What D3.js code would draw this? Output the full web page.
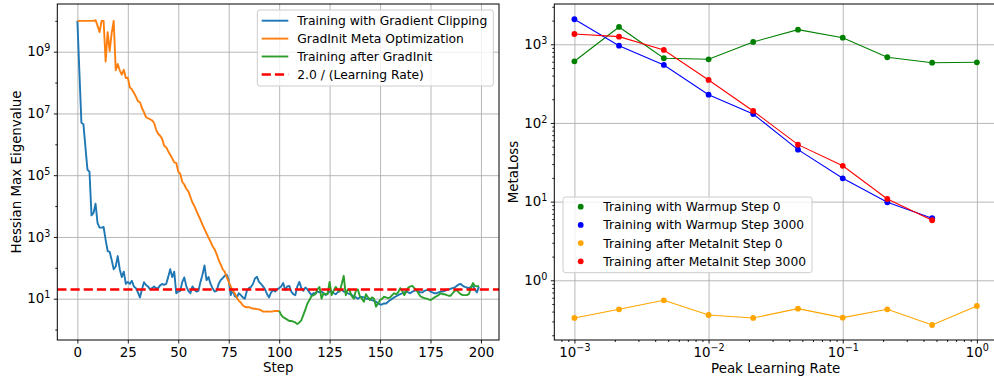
<!DOCTYPE html>
<html>
<head>
<meta charset="utf-8">
<script src="https://cdn.jsdelivr.net/npm/d3@7"></script>
<style>
  body { margin: 0; background: #fff; }
  svg { display: block; font-family: "DejaVu Sans", sans-serif; }
</style>
</head>
<body>
<svg id="fig" width="994" height="377"></svg>
<script>
// ---------------- Left panel data: Hessian max eigenvalue per step ----------------
// Training with Gradient Clipping, steps 0..199
const clipValues = [
  1e10, 2.2e8, 5e6, 4.5e6, 8e5, 1.5e5, 1.3e5, 5e3, 6e3, 1.2e4,
  2.8e3, 2e3, 2e3, 2.1e3, 800, 350, 330, 180, 90, 110,
  240, 90, 50, 75, 30, 35, 30, 38, 25, 22,
  16, 11, 20, 34, 28, 25, 20, 22, 25, 22,
  22, 27, 30, 28, 30, 50, 90, 50, 75, 15,
  17, 18, 35, 49, 25, 18, 15, 25, 20, 17,
  18, 35, 60, 120, 40, 50, 30, 22, 17, 18,
  30, 40, 46, 55, 60, 40, 13, 19, 12, 11,
  15, 13, 11, 10, 18, 22, 24, 30, 45, 51,
  35, 30, 25, 20, 14, 11, 16, 19, 17, 20,
  22, 25, 32, 19, 25, 26, 17, 14, 13, 25,
  35, 22, 18, 23, 20, 16, 13, 15, 15, 17,
  16, 17, 15, 13, 15, 17, 17, 15, 14, 16,
  19, 19, 17, 16, 15, 14, 13, 12, 11, 10,
  11, 11.5, 11, 10, 10, 10, 9, 8.5, 8, 7,
  6.5, 6.5, 7, 7, 8, 9, 10, 11, 12, 13,
  14, 15, 16, 17, 16, 15, 17, 18, 19, 17,
  16, 16, 18, 19, 19, 17, 16, 15, 15, 16,
  17, 17, 18, 19, 20, 21, 22, 23, 26, 29,
  30, 26, 24, 23, 22, 24, 26, 20, 16, 25
];
// GradInit Meta Optimization, steps 0..100
const metaValues = [
  1e10, 1e10, 1e10, 1e10, 1e10, 1e10, 1e10, 1e10, 1e10, 1.05e10,
  7e9, 4.3e9, 1e10, 1e10, 4.8e8, 4.3e9, 1.05e9, 4e9, 1e10, 2.5e8,
  4e8, 2.5e8, 1.8e8, 2.6e8, 1.4e8, 1.45e8, 7e7, 6e7, 4.7e7, 3.5e7,
  2.5e7, 2.3e7, 1.5e7, 1.1e7, 7.6e6, 7e6, 6.5e6, 6e6, 5e6, 3e6,
  2.2e6, 1.9e6, 1.5e6, 9e5, 8e5, 6e5, 4.6e5, 3.5e5, 2.6e5, 2.5e5,
  1.3e5, 1.1e5, 6e4, 5e4, 3.6e4, 3e4, 2e4, 1.3e4, 1e4, 7e3,
  5e3, 3.6e3, 2.5e3, 1.8e3, 1.3e3, 950, 700, 500, 400, 280,
  180, 130, 90, 75, 50, 36, 25, 18, 15, 11,
  8.5, 7.5, 6, 5.5, 5.3, 5.3, 5, 4.8, 4.7, 4.6,
  4.5, 4.2, 3.8, 3.8, 3.9, 3.8, 3.8, 3.9, 4, 4,
  4
];
// Training after GradInit, steps 100..199
const afterStart = 100;
const afterValues = [
  4, 3, 2.5, 2.3, 2.1, 1.9, 1.9, 1.8, 1.7, 1.5,
  1.7, 2, 3, 4.5, 7, 9, 12, 13, 14, 20,
  24, 10, 15, 14, 14, 35, 13, 18, 24, 20,
  17, 30, 55, 13, 20, 18, 12, 10, 18, 20,
  12, 10, 8, 14, 11, 9, 11, 10, 5.5, 7,
  9, 10, 11.5, 11, 10.5, 11, 13, 15, 14, 16,
  22, 18, 13, 17, 23, 25, 26, 22, 19, 15,
  12, 11, 10.5, 10, 9.5, 9, 10, 11, 12, 13,
  15, 14, 14, 13, 12.5, 12.5, 15, 18, 19, 16,
  14, 13, 13, 13, 14, 22, 32, 26, 25, 26
];
const learningRate = 0.1;
const thresholdValue = 2.0 / learningRate;
const stepTicks = [0, 25, 50, 75, 100, 125, 150, 175, 200];
const eigExponents = [1, 3, 5, 7, 9];
const leftLegend = ["Training with Gradient Clipping", "GradInit Meta Optimization",
                    "Training after GradInit", "2.0 / (Learning Rate)"];

// ---------------- Right panel data: meta loss vs peak learning rate ----------------
const peakLR = [0.001, 0.00215, 0.00464, 0.01, 0.0215, 0.0464, 0.1, 0.215, 0.464, 1.0];
const warmupStep0 = [608, 1660, 664, 644, 1070, 1534, 1213, 684, 583, 590];
const warmupStep3000 = [2080, 960, 546, 229, 130, 45.8, 19.8, 9.8, 6.15];
const metainitStep0 = [0.332, 0.428, 0.557, 0.362, 0.332, 0.436, 0.335, 0.428, 0.27, 0.471];
const metainitStep3000 = [1352, 1250, 847, 352, 142, 53, 28.5, 10.8, 5.8];
const lrExponents = [-3, -2, -1, 0];
const lossExponents = [0, 1, 2, 3];
const rightLegend = ["Training with Warmup Step 0", "Training with Warmup Step 3000",
                     "Training after MetaInit Step 0", "Training after MetaInit Step 3000"];

// ---------------- Drawing ----------------
const svg = d3.select("#fig");
const FONT = 13.4, LEG_FONT = 12.3;
const GRID = "#b0b0b0";

function powerLabels(sel) {
  sel.selectAll(".tick text").each(function (d) {
    const e = Math.round(Math.log10(d));
    const t = d3.select(this).text(null);
    t.append("tspan").text("10");
    t.append("tspan").attr("dy", -5.2).attr("font-size", 9.6)
      .text(e < 0 ? "\u2212" + (-e) : String(e));
  });
}
function styleAxis(g) {
  g.attr("font-size", FONT).attr("font-family", "DejaVu Sans");
  g.select(".domain").remove();
  g.selectAll(".tick line").attr("stroke", "#000").attr("stroke-width", 0.9);
  g.selectAll(".tick text").attr("fill", "#000");
}
function gridStyle(g) {
  g.select(".domain").remove();
  g.selectAll(".tick text").remove();
  g.selectAll(".tick line").attr("stroke", GRID).attr("stroke-width", 0.9);
}
function minorLog(scale, lo, hi) {
  const out = [];
  for (let k = lo; k <= hi; k++)
    for (let m = 2; m <= 9; m++) out.push(m * Math.pow(10, k));
  const [a, b] = scale.domain();
  return out.filter(v => v > a && v < b);
}

// ----- left axes -----
const L = { x0: 57.3, x1: 499, y0: 4, y1: 340 };
const xL = d3.scaleLinear().domain([-9.95, 208.95]).range([L.x0, L.x1]);
const yL = d3.scaleLog().domain([Math.pow(10, -0.338), Math.pow(10, 10.545)]).range([L.y1, L.y0]);
const pL = svg.append("g");

pL.append("g").attr("transform", `translate(0,${L.y1})`)
  .call(d3.axisBottom(xL).tickValues(stepTicks).tickSize(-(L.y1 - L.y0)).tickFormat(""))
  .call(gridStyle);
pL.append("g").attr("transform", `translate(${L.x0},0)`)
  .call(d3.axisLeft(yL).tickValues(eigExponents.map(e => Math.pow(10, e))).tickSize(-(L.x1 - L.x0)).tickFormat(""))
  .call(gridStyle);

pL.append("clipPath").attr("id", "clipL").append("rect")
  .attr("x", L.x0).attr("y", L.y0).attr("width", L.x1 - L.x0).attr("height", L.y1 - L.y0);
const plotL = pL.append("g").attr("clip-path", "url(#clipL)");
const lineL = (offset) => d3.line().x((d, i) => xL(i + offset)).y(d => yL(d));

plotL.append("path").datum(clipValues).attr("d", lineL(0))
  .attr("fill", "none").attr("stroke", "#1f77b4").attr("stroke-width", 1.9).attr("stroke-linejoin", "round");
plotL.append("path").datum(metaValues).attr("d", lineL(0))
  .attr("fill", "none").attr("stroke", "#ff7f0e").attr("stroke-width", 1.9).attr("stroke-linejoin", "round");
plotL.append("path").datum(afterValues).attr("d", lineL(afterStart))
  .attr("fill", "none").attr("stroke", "#2ca02c").attr("stroke-width", 1.9).attr("stroke-linejoin", "round");
plotL.append("line")
  .attr("x1", L.x0).attr("x2", L.x1).attr("y1", yL(thresholdValue)).attr("y2", yL(thresholdValue))
  .attr("stroke", "#ff0000").attr("stroke-width", 2.5).attr("stroke-dasharray", "9.2,4");

pL.append("g").attr("transform", `translate(0,${L.y1})`)
  .call(d3.axisBottom(xL).tickValues(stepTicks).tickSize(3.5).tickPadding(3.5))
  .call(styleAxis);
pL.append("g").attr("transform", `translate(${L.x0},0)`)
  .call(d3.axisLeft(yL).tickValues(eigExponents.map(e => Math.pow(10, e))).tickSize(3.5).tickPadding(3.5))
  .call(styleAxis).call(powerLabels);
pL.append("g").attr("transform", `translate(${L.x0},0)`)
  .call(d3.axisLeft(yL).tickValues([0, 2, 4, 6, 8, 10].map(e => Math.pow(10, e))).tickSize(2).tickFormat(""))
  .call(styleAxis);

pL.append("rect").attr("x", L.x0).attr("y", L.y0).attr("width", L.x1 - L.x0).attr("height", L.y1 - L.y0)
  .attr("fill", "none").attr("stroke", "#000").attr("stroke-width", 1);

pL.append("text").attr("x", (L.x0 + L.x1) / 2).attr("y", 371.5).attr("text-anchor", "middle")
  .attr("font-size", FONT).text("Step");
pL.append("text").attr("transform", `translate(21.3,${(L.y0 + L.y1) / 2}) rotate(-90)`)
  .attr("text-anchor", "middle").attr("font-size", FONT).text("Hessian Max Eigenvalue");

// left legend
const legL = pL.append("g");
legL.append("rect").attr("x", 257.3).attr("y", 10).attr("width", 236).attr("height", 76)
  .attr("rx", 2.5).attr("fill", "#fff").attr("fill-opacity", 0.8).attr("stroke", "#cccccc").attr("stroke-width", 1);
const legColors = ["#1f77b4", "#ff7f0e", "#2ca02c", "#ff0000"];
leftLegend.forEach((label, i) => {
  const y = 20.7 + i * 17.9;
  const ln = legL.append("line").attr("x1", 261.7).attr("x2", 288.3).attr("y1", y).attr("y2", y)
    .attr("stroke", legColors[i]).attr("stroke-width", i === 3 ? 2.5 : 1.9);
  if (i === 3) ln.attr("stroke-dasharray", "9.2,4");
  legL.append("text").attr("x", 297.3).attr("y", y + 4.4).attr("font-size", LEG_FONT).text(label);
});

// ----- right axes -----
const R = { x0: 554.3, x1: 997, y0: 4, y1: 340 };
const xR = d3.scaleLog().domain([Math.pow(10, -3.15), Math.pow(10, 0.15)]).range([R.x0, R.x1]);
const yR = d3.scaleLog().domain([Math.pow(10, -0.759), Math.pow(10, 3.512)]).range([R.y1, R.y0]);
const pR = svg.append("g");

pR.append("g").attr("transform", `translate(0,${R.y1})`)
  .call(d3.axisBottom(xR).tickValues(lrExponents.map(e => Math.pow(10, e))).tickSize(-(R.y1 - R.y0)).tickFormat(""))
  .call(gridStyle);
pR.append("g").attr("transform", `translate(${R.x0},0)`)
  .call(d3.axisLeft(yR).tickValues(lossExponents.map(e => Math.pow(10, e))).tickSize(-(R.x1 - R.x0)).tickFormat(""))
  .call(gridStyle);

pR.append("clipPath").attr("id", "clipR").append("rect")
  .attr("x", R.x0).attr("y", R.y0).attr("width", R.x1 - R.x0).attr("height", R.y1 - R.y0);
const plotR = pR.append("g").attr("clip-path", "url(#clipR)");
const seriesR = [
  { vals: warmupStep0, color: "#008000" },
  { vals: warmupStep3000, color: "#0000ff" },
  { vals: metainitStep0, color: "#ffa500" },
  { vals: metainitStep3000, color: "#ff0000" }
];
const lineR = d3.line().x((d, i) => xR(peakLR[i])).y(d => yR(d));
seriesR.forEach(s => {
  const g = plotR.append("g");
  g.append("path").datum(s.vals).attr("d", lineR)
    .attr("fill", "none").attr("stroke", s.color).attr("stroke-width", 1.1);
  g.selectAll("circle").data(s.vals).join("circle")
    .attr("cx", (d, i) => xR(peakLR[i])).attr("cy", d => yR(d)).attr("r", 2.9).attr("fill", s.color);
});

pR.append("g").attr("transform", `translate(0,${R.y1})`)
  .call(d3.axisBottom(xR).tickValues(lrExponents.map(e => Math.pow(10, e))).tickSize(3.5).tickPadding(3.5))
  .call(styleAxis).call(powerLabels);
pR.append("g").attr("transform", `translate(0,${R.y1})`)
  .call(d3.axisBottom(xR).tickValues(minorLog(xR, -4, 0)).tickSize(2).tickFormat(""))
  .call(styleAxis);
pR.append("g").attr("transform", `translate(${R.x0},0)`)
  .call(d3.axisLeft(yR).tickValues(lossExponents.map(e => Math.pow(10, e))).tickSize(3.5).tickPadding(3.5))
  .call(styleAxis).call(powerLabels);
pR.append("g").attr("transform", `translate(${R.x0},0)`)
  .call(d3.axisLeft(yR).tickValues(minorLog(yR, -1, 3)).tickSize(2).tickFormat(""))
  .call(styleAxis);

pR.append("rect").attr("x", R.x0).attr("y", R.y0).attr("width", R.x1 - R.x0).attr("height", R.y1 - R.y0)
  .attr("fill", "none").attr("stroke", "#000").attr("stroke-width", 1);

pR.append("text").attr("x", (R.x0 + R.x1) / 2).attr("y", 373).attr("text-anchor", "middle")
  .attr("font-size", FONT).text("Peak Learning Rate");
pR.append("text").attr("transform", `translate(518,${(R.y0 + R.y1) / 2}) rotate(-90)`)
  .attr("text-anchor", "middle").attr("font-size", FONT).text("MetaLoss");

// right legend
const legR = pR.append("g");
legR.append("rect").attr("x", 563).attr("y", 197).attr("width", 249).attr("height", 75.7)
  .attr("rx", 2.5).attr("fill", "#fff").attr("fill-opacity", 0.8).attr("stroke", "#cccccc").attr("stroke-width", 1);
rightLegend.forEach((label, i) => {
  const y = 206.7 + i * 18.2;
  legR.append("circle").attr("cx", 580.7).attr("cy", y).attr("r", 2.9).attr("fill", seriesR[i].color);
  legR.append("text").attr("x", 603.3).attr("y", y + 4.4).attr("font-size", LEG_FONT).text(label);
});
</script>
</body>
</html>
